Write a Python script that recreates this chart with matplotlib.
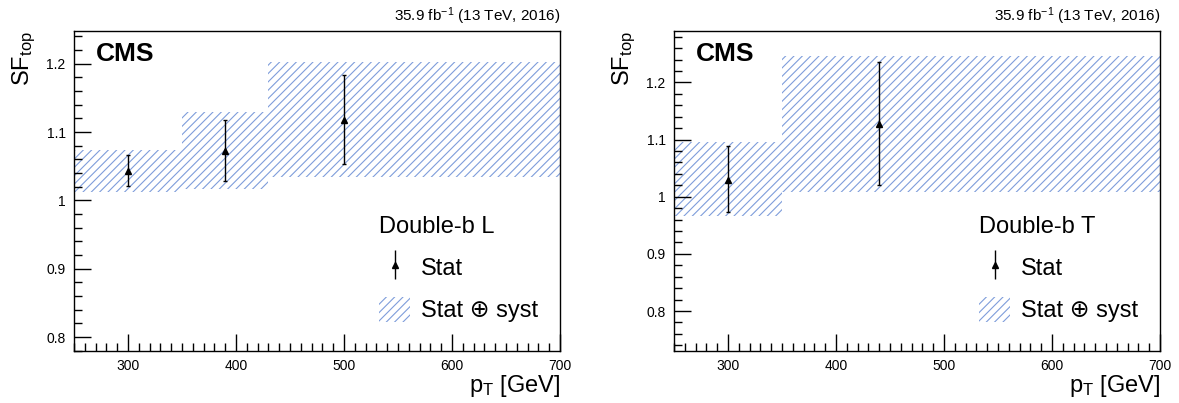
import matplotlib
matplotlib.use("Agg")
import matplotlib.pyplot as plt
from matplotlib.patches import Patch
from matplotlib.ticker import MultipleLocator
from matplotlib.legend_handler import HandlerErrorbar
from matplotlib.container import ErrorbarContainer

plt.rcParams['font.family'] = ['Liberation Sans', 'DejaVu Sans']
plt.rcParams['mathtext.fontset'] = 'custom'
plt.rcParams['mathtext.rm'] = 'Liberation Sans'
plt.rcParams['mathtext.it'] = 'Liberation Sans:italic'
plt.rcParams['hatch.linewidth'] = 0.8

# Double-b L
l_edges = [250, 350, 430, 700]
l_band_lo = [1.013, 1.017, 1.035]
l_band_hi = [1.074, 1.129, 1.203]
l_pt = [300, 390, 500]
l_sf = [1.043, 1.0725, 1.118]
l_err_lo = [1.021, 1.028, 1.054]
l_err_hi = [1.066, 1.118, 1.183]

# Double-b T
t_edges = [250, 350, 700]
t_band_lo = [0.966, 1.008]
t_band_hi = [1.095, 1.247]
t_pt = [300, 440]
t_sf = [1.029, 1.1275]
t_err_lo = [0.9725, 1.020]
t_err_hi = [1.089, 1.236]

hatch_col = '#7f9ddb'

fig = plt.figure(figsize=(11.79, 4.03), dpi=100)
ax1 = fig.add_axes([0.0628, 0.129, 0.4122, 0.794])
ax2 = fig.add_axes([0.5717, 0.129, 0.4122, 0.794])


def draw(ax, edges, lo, hi, pt, sf, elo, ehi, ylim, tag):
    widths = [edges[i + 1] - edges[i] for i in range(len(lo))]
    heights = [hi[i] - lo[i] for i in range(len(lo))]
    ax.bar(edges[:-1], heights, width=widths, bottom=lo, align='edge',
           color='none', edgecolor=hatch_col, hatch='////', linewidth=0)
    yerr = [[sf[i] - elo[i] for i in range(len(sf))],
            [ehi[i] - sf[i] for i in range(len(sf))]]
    ax.errorbar(pt, sf, yerr=yerr, fmt='^', color='black', ms=5,
                elinewidth=1, capsize=1.5, capthick=1)
    ax.set_xlim(250, 700)
    ax.set_ylim(*ylim)
    ax.xaxis.set_major_locator(MultipleLocator(100))
    ax.xaxis.set_minor_locator(MultipleLocator(10))
    ax.yaxis.set_major_locator(MultipleLocator(0.1))
    ax.yaxis.set_minor_locator(MultipleLocator(0.02))
    ax.yaxis.set_major_formatter(lambda v, p: '1' if abs(v - 1) < 1e-9 else '%.1f' % v)
    ax.tick_params(which='both', direction='in', top=False, right=False,
                   labelsize=10, width=1)
    ax.tick_params(which='major', length=12, pad=6)
    ax.tick_params(which='minor', length=6)
    for s in ax.spines.values():
        s.set_linewidth(1)
    ax.set_xlabel('p$_{\\mathrm{T}}$ [GeV]', fontsize=17, loc='right', labelpad=0)
    ax.set_ylabel('SF$_{\\mathrm{top}}$', fontsize=17, loc='top', labelpad=6)
    ax.text(0.045, 0.965, 'CMS', transform=ax.transAxes, fontsize=19,
            fontweight='bold', va='top', ha='left')
    ax.text(1.0, 1.012, '35.9 fb$^{-1}$ (13 TeV, 2016)', transform=ax.transAxes,
            fontsize=11, ha='right', va='bottom')
    # legend handle for the stat error: marker with a plain vertical bar
    h_mark, = ax.plot([], [], '^', color='black', ms=4)
    h_bar = ax.vlines([], [], [], color='black', lw=1)
    h_stat = ErrorbarContainer((h_mark, (), (h_bar,)), has_xerr=False, has_yerr=True)
    h_syst = Patch(facecolor='none', edgecolor=hatch_col, hatch='////', linewidth=0)
    leg = ax.legend([h_stat, h_syst], ['Stat', 'Stat \u2295 syst'], title=tag,
                    loc='upper left', bbox_to_anchor=(0.604, 0.46), frameon=False,
                    fontsize=17, title_fontsize=17, handlelength=1.3,
                    handleheight=1.25, handletextpad=0.45, labelspacing=0.72,
                    borderpad=0,
                    handler_map={ErrorbarContainer: HandlerErrorbar(yerr_size=0.62)})
    leg._legend_box.align = 'left'


draw(ax1, l_edges, l_band_lo, l_band_hi, l_pt, l_sf, l_err_lo, l_err_hi,
     (0.7795, 1.248), 'Double-b L')
draw(ax2, t_edges, t_band_lo, t_band_hi, t_pt, t_sf, t_err_lo, t_err_hi,
     (0.73, 1.29), 'Double-b T')

fig.savefig('out.png', dpi=100)
